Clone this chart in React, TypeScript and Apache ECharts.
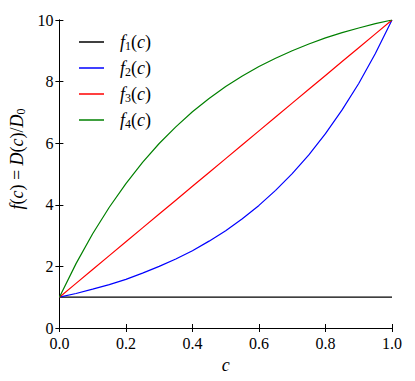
import React, { useEffect, useRef } from "react";
import * as echarts from "echarts";

const cValues = [0, 0.05, 0.1, 0.15, 0.2, 0.25, 0.3, 0.35, 0.4, 0.45, 0.5, 0.55, 0.6, 0.65, 0.7, 0.75, 0.8, 0.85, 0.9, 0.95, 1.0];
const f1Values = [1, 1, 1, 1, 1, 1, 1, 1, 1, 1, 1, 1, 1, 1, 1, 1, 1, 1, 1, 1, 1];
const f2Values = [1.0, 1.12, 1.26, 1.41, 1.58, 1.78, 2.0, 2.24, 2.51, 2.82, 3.16, 3.55, 3.98, 4.47, 5.01, 5.62, 6.31, 7.08, 7.94, 8.91, 10.0];
const f3Values = [1.0, 1.45, 1.9, 2.35, 2.8, 3.25, 3.7, 4.15, 4.6, 5.05, 5.5, 5.95, 6.4, 6.85, 7.3, 7.75, 8.2, 8.65, 9.1, 9.55, 10.0];
const f4Values = [1.0, 2.09, 3.06, 3.92, 4.69, 5.38, 5.99, 6.53, 7.02, 7.45, 7.84, 8.18, 8.49, 8.76, 9.0, 9.22, 9.42, 9.59, 9.74, 9.88, 10.0];
const seriesNames = ["f1", "f2", "f3", "f4"];
const seriesColors = ["#000000", "#0000ff", "#ff0000", "#008000"];
const xTicks = { min: 0, max: 1, interval: 0.2 };
const yTicks = { min: 0, max: 10, interval: 2 };

const SERIF = "Liberation Serif";

export default function App() {
  const ref = useRef<HTMLDivElement>(null);
  useEffect(() => {
    if (!ref.current) return;
    const chart = echarts.init(ref.current, null, { renderer: "svg" });
    const all = [f1Values, f2Values, f3Values, f4Values];
    const rich = {
      i: { fontFamily: SERIF, fontStyle: "italic", fontSize: 18, color: "#000" },
      p: { fontFamily: SERIF, fontSize: 18, color: "#000" },
      s: { fontFamily: SERIF, fontSize: 12, color: "#000", padding: [7, 0, 0, 0] },
    };
    const axisCommon = {
      axisLine: { show: true, lineStyle: { color: "#000", width: 1 } },
      axisTick: { show: true, inside: true, length: 4, lineStyle: { color: "#000", width: 1 } },
      splitLine: { show: false },
    };
    chart.setOption({
      animation: false,
      backgroundColor: "#fff",
      textStyle: { fontFamily: SERIF },
      grid: { left: 54, right: 23, top: 20, bottom: 53 },
      legend: {
        left: 74,
        top: 28,
        orient: "vertical",
        itemWidth: 25,
        itemHeight: 1.5,
        itemGap: 7.5,
        icon: "rect",
        data: seriesNames,
        textStyle: { fontFamily: SERIF, padding: [0, 0, 0, 11], rich },
        formatter: (name: string) => `{i|f}{s|${name.slice(1)}}{p|(}{i|c}{p|)}`,
      },
      xAxis: [
        {
          type: "value",
          min: xTicks.min,
          max: xTicks.max,
          interval: xTicks.interval,
          position: "bottom",
          ...axisCommon,
          axisLabel: {
            margin: 7,
            fontFamily: SERIF,
            fontSize: 16,
            color: "#000",
            formatter: (v: number) => v.toFixed(1),
          },
          name: "{i|c}",
          nameLocation: "middle",
          nameGap: 20,
          nameTextStyle: { fontFamily: SERIF, rich },
        },
        {
          type: "value",
          min: xTicks.min,
          max: xTicks.max,
          interval: xTicks.interval,
          position: "top",
          ...axisCommon,
          axisLabel: { show: false },
        },
      ],
      yAxis: [
        {
          type: "value",
          min: yTicks.min,
          max: yTicks.max,
          interval: yTicks.interval,
          position: "left",
          ...axisCommon,
          axisLabel: { margin: 6, fontFamily: SERIF, fontSize: 16, color: "#000" },
          name: "{i|f}{p|(}{i|c}{p|) = }{i|D}{p|(}{i|c}{p|)/}{i|D}{s|0}",
          nameLocation: "middle",
          nameRotate: 90,
          nameGap: 28,
          nameTextStyle: { fontFamily: SERIF, padding: [0, 0, 0, 30], rich },
        },
        {
          type: "value",
          min: yTicks.min,
          max: yTicks.max,
          interval: yTicks.interval,
          position: "right",
          ...axisCommon,
          axisLabel: { show: false },
        },
      ],
      series: seriesNames.map((name, k) => ({
        name,
        type: "line",
        xAxisIndex: 0,
        yAxisIndex: 0,
        showSymbol: false,
        symbol: "none",
        smooth: false,
        lineStyle: { color: seriesColors[k], width: 1.2 },
        itemStyle: { color: seriesColors[k] },
        data: cValues.map((c, j) => [c, all[k][j]]),
      })),
    });
    return () => chart.dispose();
  }, []);
  return <div ref={ref} style={{ width: 415, height: 381, margin: -8 }} />;
}
